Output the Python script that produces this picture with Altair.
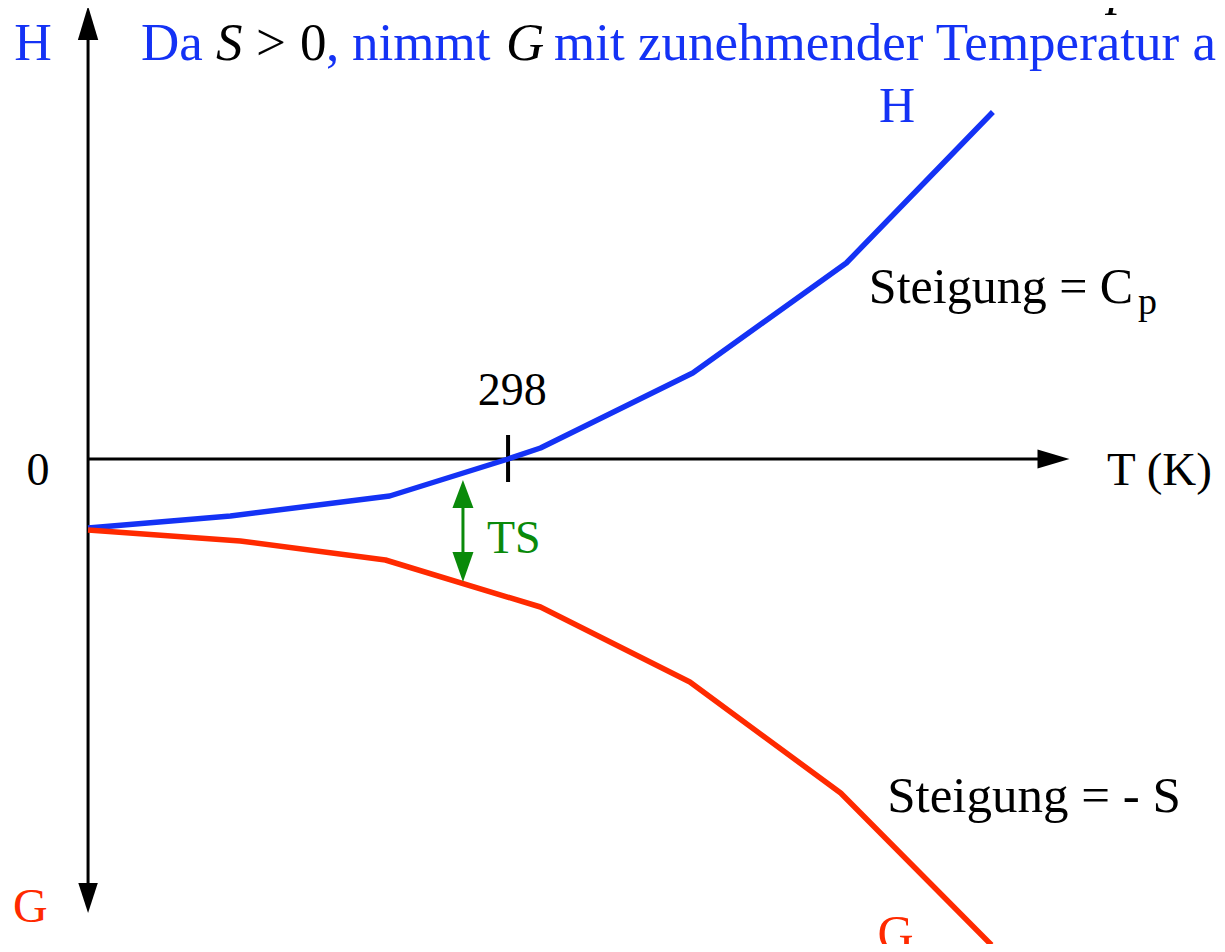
import altair as alt
import pandas as pd

# ---------------- data (T in K, energy in arbitrary units, 0 at 298 K) ----------------
T_H = [0, 101, 214, 298, 321, 429, 538, 642]
E_H = [-69, -57, -37, 0, 11, 86, 196, 347]

T_G = [0, 108, 211, 321, 427, 534, 641]
E_G = [-71, -82, -101, -148, -223, -334, -486]

T_REF = [298]            # reference temperature tick
TICK_E = [24, -23]

AXIS_T_END = [0, 676]    # horizontal T axis line (at E = 0)
AXIS_E_END = [429, -431] # vertical H/G axis line (at T = 0)

# arrow heads (centre positions)
ARROW_UP = {"T": [0], "E": [436]}
ARROW_DOWN = {"T": [0], "E": [-439]}
ARROW_RIGHT = {"T": [685], "E": [0]}
TS_T = [266]
TS_LINE_E = [-44, -100]
TS_UP_E = [-35]
TS_DOWN_E = [-108]

X_DOMAIN = [-56.8, 801.0]
Y_DOMAIN = [-485, 451]

BLUE = "#1432f5"
RED = "#ff2a00"
GREEN = "#0a8a0a"
BLACK = "#000000"
FONT = "Liberation Serif"

x_scale = alt.Scale(domain=X_DOMAIN, nice=False, zero=False)
y_scale = alt.Scale(domain=Y_DOMAIN, nice=False, zero=False)


def X(field="T"):
    return alt.X(f"{field}:Q", scale=x_scale, axis=None)


def Y(field="E"):
    return alt.Y(f"{field}:Q", scale=y_scale, axis=None)


layers = []

# axes lines
layers.append(
    alt.Chart(pd.DataFrame({"T": [AXIS_T_END[0]], "T2": [AXIS_T_END[1]], "E": [0]}))
    .mark_rule(color=BLACK, strokeWidth=3)
    .encode(x=X(), x2="T2:Q", y=Y())
)
layers.append(
    alt.Chart(pd.DataFrame({"T": [0], "E": [AXIS_E_END[0]], "E2": [AXIS_E_END[1]]}))
    .mark_rule(color=BLACK, strokeWidth=3)
    .encode(x=X(), y=Y(), y2="E2:Q")
)
# tick at 298
layers.append(
    alt.Chart(pd.DataFrame({"T": T_REF, "E": [TICK_E[0]], "E2": [TICK_E[1]]}))
    .mark_rule(color=BLACK, strokeWidth=4)
    .encode(x=X(), y=Y(), y2="E2:Q")
)

# arrow heads of axes
def head(d, path, size, color=BLACK):
    return (
        alt.Chart(pd.DataFrame(d))
        .mark_point(shape=path, size=size, filled=True, color=color, opacity=1, strokeWidth=0)
        .encode(x=X(), y=Y())
    )

layers.append(head(ARROW_UP, "M0,-1L0.6,1L-0.6,1Z", 1156))
layers.append(head(ARROW_DOWN, "M0,1L0.65,-1L-0.65,-1Z", 900))
layers.append(head(ARROW_RIGHT, "M1,0L-1,-0.6L-1,0.6Z", 1024))

# curves
layers.append(
    alt.Chart(pd.DataFrame({"T": T_H, "E": E_H}))
    .mark_line(color=BLUE, strokeWidth=5.5, strokeJoin="round")
    .encode(x=X(), y=Y(), order="T:Q")
)
layers.append(
    alt.Chart(pd.DataFrame({"T": T_G, "E": E_G}))
    .mark_line(color=RED, strokeWidth=5.5, strokeJoin="round")
    .encode(x=X(), y=Y(), order="T:Q")
)

# TS arrow
layers.append(
    alt.Chart(pd.DataFrame({"T": TS_T, "E": [TS_LINE_E[0]], "E2": [TS_LINE_E[1]]}))
    .mark_rule(color=GREEN, strokeWidth=3)
    .encode(x=X(), y=Y(), y2="E2:Q")
)
layers.append(head({"T": TS_T, "E": TS_UP_E}, "M0,-1L0.75,1L-0.75,1Z", 784, GREEN))
layers.append(head({"T": TS_T, "E": TS_DOWN_E}, "M0,1L0.7,-1L-0.7,-1Z", 900, GREEN))

# ---------------- labels ----------------
LABEL_TEXT = ["H", "0", "G", "H", "G", "298", "T (K)", "TS",
              "Steigung = C", "p", "Steigung = - S",
              "Da", "S", ">", "0", ",", "nimmt", "G", "mit zunehmender Temperatur a", "p"]
LABEL_T = [-39, -35.5, -41, 574, 573, 301, 723, 283,
           554, 745, 567,
           37.6, 90.8, 119.2, 150.4, 168.9, 187.3, 296.6, 330.6, 723.7]
LABEL_E = [399, -26, -463, 337, -491, 54, -26, -94,
           156, 145, -353,
           399, 399, 399, 399, 399, 399, 399, 399, 455]

LABEL_STYLE = [
    # color, size, align, fontStyle
    (BLUE, 52, "center", "normal"),
    (BLACK, 46, "center", "normal"),
    (RED, 48, "center", "normal"),
    (BLUE, 50, "center", "normal"),
    (RED, 50, "center", "normal"),
    (BLACK, 46, "center", "normal"),
    (BLACK, 47, "left", "normal"),
    (GREEN, 46, "left", "normal"),
    (BLACK, 50, "left", "normal"),
    (BLACK, 38, "left", "normal"),
    (BLACK, 51, "left", "normal"),
    (BLUE, 53, "left", "normal"),
    (BLACK, 53, "left", "italic"),
    (BLACK, 53, "left", "normal"),
    (BLACK, 53, "left", "normal"),
    (BLUE, 53, "left", "normal"),
    (BLUE, 53, "left", "normal"),
    (BLACK, 53, "left", "italic"),
    (BLUE, 53, "left", "normal"),
    (BLACK, 53, "left", "italic"),
]

for txt, t, e, (col, sz, al, st) in zip(LABEL_TEXT, LABEL_T, LABEL_E, LABEL_STYLE):
    layers.append(
        alt.Chart(pd.DataFrame({"T": [t], "E": [e], "label": [txt]}))
        .mark_text(font=FONT, fontSize=sz, color=col, align=al, baseline="alphabetic",
                   fontStyle=st)
        .encode(x=X(), y=Y(), text="label:N")
    )

chart = (
    alt.layer(*layers)
    .properties(width=1209, height=936, padding=0,
                autosize=alt.AutoSizeParams(type="none"), background="white")
    .configure_view(stroke=None)
)

chart.save("out.html", embed_options={"renderer": "svg", "actions": False})
